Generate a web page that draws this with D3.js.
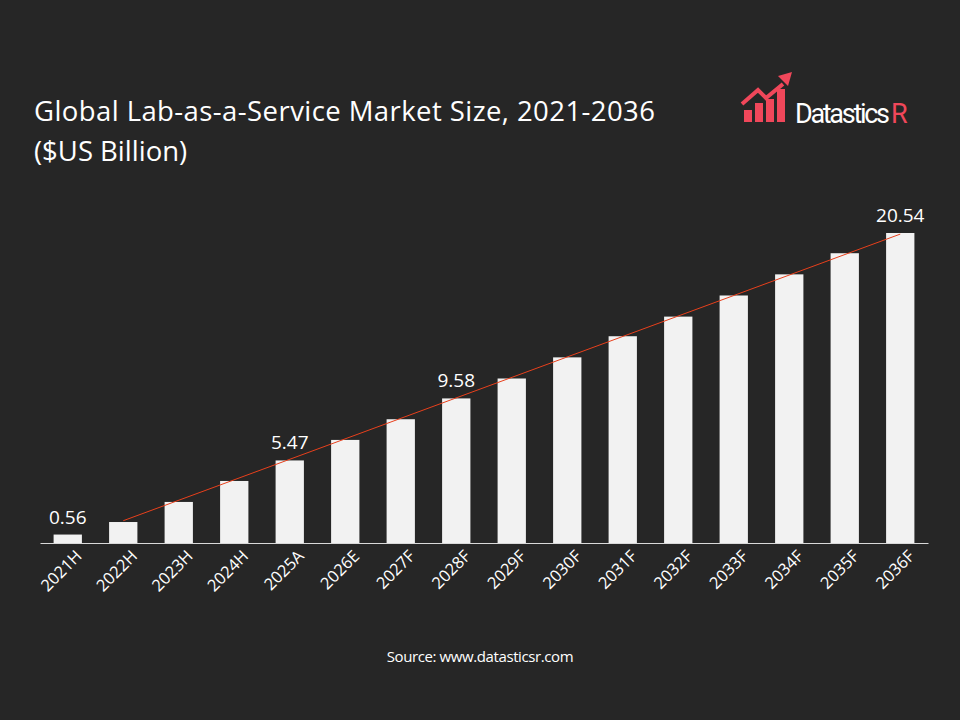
<!DOCTYPE html><html><head><meta charset="utf-8">
<script src="https://cdn.jsdelivr.net/npm/d3@7"></script>
<style>body{margin:0;background:#262626}</style></head><body>
<svg id="c" width="960" height="720"></svg>
<script>
const categories=["2021H","2022H","2023H","2024H","2025A","2026E","2027F","2028F","2029F","2030F","2031F","2032F","2033F","2034F","2035F","2036F"];
const values=[0.56,1.39,2.72,4.11,5.47,6.83,8.2,9.58,10.9,12.3,13.7,15.0,16.4,17.8,19.2,20.54];
const labelled=["2021H","2025A","2028F","2036F"];
const svg=d3.select("#c");
svg.append("rect").attr("width",960).attr("height",720).attr("fill","#262626");
const F="'Open Sans', Calibri, sans-serif";
svg.append("text").attr("x",34).attr("y",121).attr("fill","#fff").attr("font-family",F).attr("font-size",27.5).attr("textLength",621).text("Global Lab-as-a-Service Market Size, 2021-2036");
svg.append("text").attr("x",34).attr("y",161).attr("fill","#fff").attr("font-family",F).attr("font-size",27.5).text("($US Billion)");
// logo
const lg=svg.append("g").attr("transform","translate(730,60)").attr("fill","#f0475a");
[[14,50,8,12],[25,43,8,19],[36,39,8,23],[47,29,8,33]].forEach(d=>lg.append("rect").attr("x",d[0]).attr("y",d[1]).attr("width",d[2]).attr("height",d[3]));
lg.append("path").attr("d","M12,44 L28,30 L36,38 L53,24").attr("stroke","#f0475a").attr("stroke-width",4).attr("fill","none");
lg.append("path").attr("d","M62,12 L48,16 L58,26 Z");
svg.append("text").attr("x",795).attr("y",123).attr("font-family","Roboto, sans-serif").attr("font-size",27).attr("textLength",95).attr("fill","#fff").text("Datastics");
svg.append("text").attr("x",891).attr("y",123).attr("font-family","Roboto, sans-serif").attr("font-size",27).attr("fill","#f0475a").text("R");
const x=d3.scaleBand().domain(categories).range([40,928]).paddingInner(0.49).paddingOuter(0.245);
const y=d3.scaleLinear().domain([0,20.54]).range([543,233]);
svg.selectAll(".b").data(values).enter().append("rect").attr("x",(d,i)=>x(categories[i])).attr("y",d=>y(d)).attr("width",x.bandwidth()).attr("height",d=>543-y(d)).attr("fill","#f2f2f2");
const n=values.length,xs=d3.range(n);const mx=d3.mean(xs),my=d3.mean(values);
const b=d3.sum(xs,i=>(i-mx)*(values[i]-my))/d3.sum(xs,i=>(i-mx)**2),a=my-b*mx;
const cx=i=>x(categories[i])+x.bandwidth()/2;
svg.append("line").attr("x1",cx(1)).attr("y1",y(a+b*1)).attr("x2",cx(n-1)).attr("y2",y(a+b*(n-1))).attr("stroke","#e8401c").attr("stroke-width",1);
svg.selectAll(".l").data(values.map((v,i)=>[v,i]).filter(d=>labelled.includes(categories[d[1]]))).enter().append("text")
 .attr("x",d=>cx(d[1])).attr("y",d=>y(d[0])-11).attr("text-anchor","middle").attr("fill","#fff").attr("font-family",F).attr("font-size",19).text(d=>d[0].toFixed(2));
const ax=svg.append("g").attr("transform","translate(0,543)").call(d3.axisBottom(x).tickSize(0));
ax.select(".domain").attr("stroke","#d9d9d9");
ax.selectAll("text").attr("fill","#fff").attr("font-family",F).attr("font-size",16.5).attr("text-anchor","end").attr("transform","translate(9,8) rotate(-45)").attr("dy","0.35em");
svg.append("text").attr("x",480).attr("y",662).attr("text-anchor","middle").attr("fill","#fff").attr("font-family",F).attr("font-size",15).attr("letter-spacing",-0.4).text("Source: www.datasticsr.com");
</script></body></html>
